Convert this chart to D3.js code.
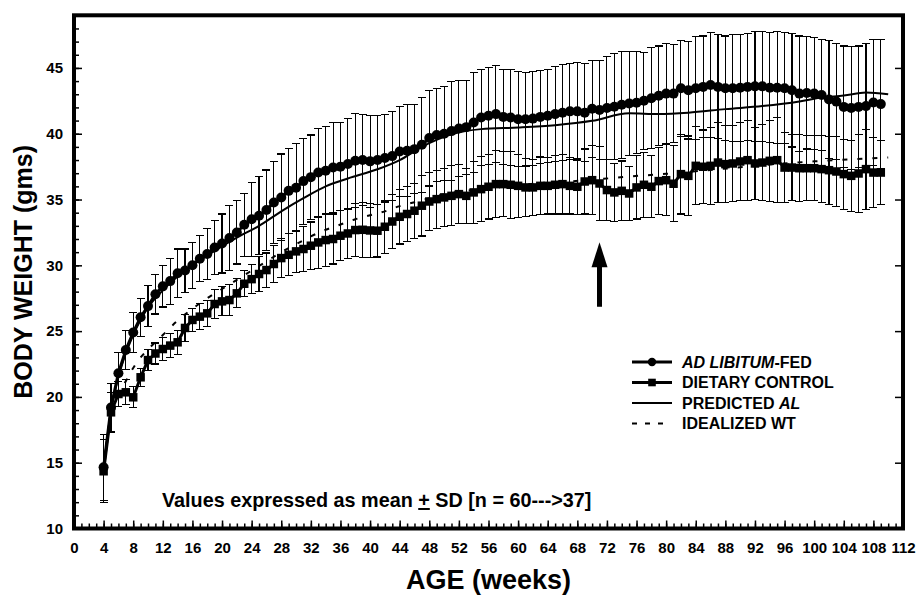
<!DOCTYPE html>
<html>
<head>
<meta charset="utf-8">
<script src="https://cdn.jsdelivr.net/npm/d3@7"></script>
<style>
  html, body { margin: 0; padding: 0; background: #fff; }
  svg { display: block; }
  text { font-family: "Liberation Sans", Arial, Helvetica, sans-serif; font-weight: bold; fill: #000; }
</style>
</head>
<body>
<svg id="chart" width="918" height="596"></svg>
<script>
// ---------- DATA ----------
const weeks = d3.range(4, 110); // 4 .. 109

const alMean = [14.65,19.2,21.8,23.57,24.9,26.05,26.9,27.8,28.4,28.8,29.4,29.6,30.0,30.5,30.86,31.36,31.66,32.07,32.5,33.08,
  33.5,33.77,34.2,34.78,35.16,35.66,35.9,36.4,36.7,37.05,37.18,37.43,37.5,37.7,37.95,38.0,37.9,38.0,38.15,38.3,
  38.65,38.7,38.83,39.16,39.67,39.9,40.0,40.2,40.4,40.5,40.85,41.23,41.36,41.49,41.28,41.23,41.1,41.1,41.15,41.28,
  41.36,41.49,41.6,41.7,41.7,41.6,41.9,41.8,41.95,42.05,42.2,42.3,42.35,42.5,42.7,42.88,43.05,43.05,43.46,43.3,
  43.46,43.56,43.7,43.56,43.46,43.46,43.5,43.56,43.6,43.6,43.5,43.5,43.46,43.3,43.05,43.1,43.05,42.95,42.6,42.44,
  42.04,41.95,42.04,42.1,42.37,42.25];

const alSD = [2.5,1.85,1.6,1.5,1.5,1.45,1.55,1.5,1.57,1.75,1.84,1.64,1.74,1.75,1.97,2.08,2.24,2.46,2.4,2.38,
  2.8,2.96,3.04,3.1,3.3,3.25,3.36,3.27,3.2,3.38,3.35,3.42,3.35,3.48,3.57,3.43,3.5,3.36,3.34,3.39,
  3.39,3.5,3.37,3.6,3.64,3.56,3.56,3.77,3.67,3.57,3.8,3.67,3.67,3.67,3.62,3.67,3.62,3.55,3.57,3.54,
  3.54,3.59,3.63,3.63,3.7,3.73,3.69,3.79,3.89,4.04,4.05,3.98,3.87,3.67,3.85,3.79,3.8,3.75,3.64,3.7,
  3.9,3.87,3.99,3.95,3.97,4.05,4.06,4.05,4.16,4.16,4.19,4.26,4.23,4.31,4.38,4.26,4.26,4.23,4.5,4.41,
  4.63,4.65,4.63,4.75,4.81,4.93];

const dcMean = [14.35,18.83,20.22,20.35,19.97,21.49,22.8,23.3,23.64,23.9,24.15,25.24,25.85,26.1,26.35,27.06,27.26,27.36,27.87,28.6,
  28.95,29.34,29.64,30.1,30.55,30.8,31.06,31.24,31.49,31.74,31.92,32.0,32.25,32.42,32.68,32.7,32.65,32.63,32.93,33.33,
  33.69,33.9,34.15,34.53,34.85,35.03,35.16,35.28,35.41,35.28,35.54,35.79,35.97,36.17,36.17,36.12,36.04,35.92,35.92,36.04,
  36.04,36.12,36.17,36.04,35.97,36.37,36.47,36.22,35.72,35.54,35.66,35.46,35.92,36.12,35.97,36.4,36.47,36.2,36.93,36.8,
  37.56,37.49,37.56,37.81,37.69,37.74,37.89,37.99,37.74,37.81,37.94,37.99,37.43,37.43,37.38,37.38,37.38,37.31,37.23,37.13,
  36.93,36.8,36.98,37.31,37.05,37.05];

const dcSD = [2.4,1.5,0.95,0.95,0.8,0.7,0.8,0.8,0.9,0.9,0.9,1.0,0.9,1.0,1.0,1.1,1.1,1.2,1.1,1.0,
  1.1,1.3,1.3,1.4,1.5,1.6,1.6,1.7,1.8,2.0,2.0,1.9,1.9,1.9,2.0,2.1,2.05,2.0,2.03,2.02,
  2.07,2.08,2.08,2.3,2.22,2.2,2.23,2.28,2.23,2.1,2.36,2.46,2.45,2.53,2.48,2.53,2.4,2.23,2.15,2.19,
  2.14,2.22,2.27,2.14,2.12,2.47,2.62,2.83,2.33,2.21,2.27,2.05,2.4,2.48,2.35,2.53,2.7,2.89,3.03,3.03,
  2.96,2.79,2.91,3.03,2.91,2.89,2.99,3.03,2.71,2.91,3.09,3.21,2.65,2.53,2.53,2.48,2.48,2.53,2.58,2.68,
  2.66,2.71,2.96,3.04,2.65,2.45];

const predWeeks = [4,5,6,7,8,10,12,15,19,22,25,28,31,34,37,41,44,47,51,55,60,65,70,75,79,83,88,93,98,101,104,107,110];
const predVals  = [14.6,18.9,21.5,23.3,24.7,26.8,28.1,29.6,31.1,32.1,33.0,34.1,35.1,36.0,36.6,37.3,38.0,39.0,39.95,40.35,40.47,40.65,40.98,41.55,41.5,41.6,41.87,42.1,42.45,42.75,42.9,43.13,43.0];

const idealWeeks = [4,5,6,7,8,9,10,12,14,16,18,20,22,24,26,28,30,32,34,36,38,40,42,44,46,48,50,55,60,65,70,75,80,85,90,95,100,105,110];
const idealVals  = [14.5,18.6,20.3,21.2,22.2,23.0,23.6,24.7,25.8,26.7,27.5,28.2,28.9,29.6,30.3,31.0,31.6,32.2,32.7,33.1,33.5,33.8,34.1,34.5,34.8,35.1,35.4,35.8,36.1,36.3,36.5,36.75,36.95,37.2,37.45,37.7,37.9,38.05,38.2];

const xTickLabels = d3.range(0, 113, 4);
const yTickLabels = d3.range(10, 50, 5);

const legendLabels = [
  [{t: "AD LIBITUM", i: true}, {t: "-FED", i: false}],
  [{t: "DIETARY CONTROL", i: false}],
  [{t: "PREDICTED ", i: false}, {t: "AL", i: true}],
  [{t: "IDEALIZED WT", i: false}]
];

const arrowWeek = 71, arrowFrom = 26.85, arrowTo = 31.75;

// ---------- SCALES ----------
const svg = d3.select("#chart");
const x = d3.scaleLinear().domain([0, 112]).range([74, 903]);
const y = d3.scaleLinear().domain([10, 49]).range([528.5, 15.3]);

// ---------- AXES ----------
function styleAxis(g) {
  g.select(".domain").remove();
  g.selectAll(".tick line").attr("stroke", "#000").attr("stroke-width", 1.5);
  g.selectAll(".tick text").style("font-size", "15px").style("font-weight", "bold")
    .style("font-family", '"Liberation Sans", Arial, sans-serif');
}

svg.append("g").attr("transform", `translate(0,${y(10)})`)
  .call(d3.axisBottom(x).tickValues(d3.range(0, 113, 1)).tickSize(-5).tickFormat(""))
  .call(styleAxis);
svg.append("g").attr("transform", `translate(0,${y(10)})`)
  .call(d3.axisBottom(x).tickValues(xTickLabels).tickSize(-8).tickPadding(14).tickFormat(d3.format("d")))
  .call(styleAxis);
svg.append("g").attr("transform", `translate(${x(0)},0)`)
  .call(d3.axisLeft(y).tickValues(d3.range(10, 49, 1)).tickSize(-5).tickFormat(""))
  .call(styleAxis);
svg.append("g").attr("transform", `translate(${x(0)},0)`)
  .call(d3.axisLeft(y).tickValues(yTickLabels).tickSize(-8).tickPadding(11).tickFormat(d3.format("d")))
  .call(styleAxis);
svg.append("g").attr("transform", `translate(${x(112)},0)`)
  .call(d3.axisRight(y).tickValues(yTickLabels.filter(v => v > 10)).tickSize(-8).tickFormat(""))
  .call(styleAxis);

svg.append("rect")
  .attr("x", x(0)).attr("y", y(49))
  .attr("width", x(112) - x(0)).attr("height", y(10) - y(49))
  .attr("fill", "none").attr("stroke", "#000").attr("stroke-width", 4);

// ---------- ERROR BARS ----------
const capW = 4;
function errorBars(means, sds, cls) {
  const g = svg.append("g").attr("class", cls).attr("stroke", "#000").attr("stroke-width", 1.1)
    .attr("shape-rendering", "crispEdges");
  weeks.forEach((w, i) => {
    const lo = y(means[i] - sds[i]), hi = y(means[i] + sds[i]), cx = x(w);
    g.append("line").attr("x1", cx).attr("x2", cx).attr("y1", lo).attr("y2", hi);
    g.append("line").attr("x1", cx - capW).attr("x2", cx + capW).attr("y1", lo).attr("y2", lo);
    g.append("line").attr("x1", cx - capW).attr("x2", cx + capW).attr("y1", hi).attr("y2", hi);
  });
}
errorBars(alMean, alSD, "al-err");
errorBars(dcMean, dcSD, "dc-err");

// ---------- LINES ----------
const lineW = d3.line().x((d, i) => x(weeks[i])).y(d => y(d));
const smooth = d3.line().x(d => x(d[0])).y(d => y(d[1])).curve(d3.curveMonotoneX);

svg.append("path").attr("d", smooth(d3.zip(idealWeeks, idealVals)))
  .attr("fill", "none").attr("stroke", "#000").attr("stroke-width", 2).attr("stroke-dasharray", "5,10");

svg.append("path").attr("d", smooth(d3.zip(predWeeks, predVals)))
  .attr("fill", "none").attr("stroke", "#000").attr("stroke-width", 2);

svg.append("path").attr("d", lineW(alMean))
  .attr("fill", "none").attr("stroke", "#000").attr("stroke-width", 3);
svg.append("path").attr("d", lineW(dcMean))
  .attr("fill", "none").attr("stroke", "#000").attr("stroke-width", 3);

svg.append("g").selectAll("circle").data(alMean).join("circle")
  .attr("cx", (d, i) => x(weeks[i])).attr("cy", d => y(d)).attr("r", 5).attr("fill", "#000");

const sq = 8.5;
svg.append("g").selectAll("rect").data(dcMean).join("rect")
  .attr("x", (d, i) => x(weeks[i]) - sq / 2).attr("y", d => y(d) - sq / 2)
  .attr("width", sq).attr("height", sq).attr("fill", "#000");

// ---------- ARROW ----------
const ax = x(arrowWeek), aTop = y(arrowTo), aBot = y(arrowFrom);
svg.append("line").attr("x1", ax).attr("x2", ax).attr("y1", aBot).attr("y2", aTop + 18)
  .attr("stroke", "#000").attr("stroke-width", 5);
svg.append("path")
  .attr("d", `M${ax},${aTop} L${ax + 8},${aTop + 25} L${ax - 8},${aTop + 25} Z`)
  .attr("fill", "#000");

// ---------- LEGEND ----------
const legY = [362, 382.5, 403, 423.5];
const lx1 = 632, lx2 = 672, ltx = 682;
const leg = svg.append("g");
leg.append("line").attr("x1", lx1).attr("x2", lx2).attr("y1", legY[0]).attr("y2", legY[0]).attr("stroke", "#000").attr("stroke-width", 3);
leg.append("circle").attr("cx", (lx1 + lx2) / 2).attr("cy", legY[0]).attr("r", 4.2).attr("fill", "#000");
leg.append("line").attr("x1", lx1).attr("x2", lx2).attr("y1", legY[1]).attr("y2", legY[1]).attr("stroke", "#000").attr("stroke-width", 3);
leg.append("rect").attr("x", (lx1 + lx2) / 2 - 3.8).attr("y", legY[1] - 3.8).attr("width", 7.6).attr("height", 7.6).attr("fill", "#000");
leg.append("line").attr("x1", lx1).attr("x2", lx2).attr("y1", legY[2]).attr("y2", legY[2]).attr("stroke", "#000").attr("stroke-width", 2);
leg.append("line").attr("x1", lx1).attr("x2", lx2 - 8).attr("y1", legY[3]).attr("y2", legY[3]).attr("stroke", "#000").attr("stroke-width", 2).attr("stroke-dasharray", "5,8");

legendLabels.forEach((parts, r) => {
  const t = leg.append("text").attr("x", ltx).attr("y", legY[r] + 5.5).style("font-size", "16px");
  parts.forEach(p => t.append("tspan").text(p.t).style("font-style", p.i ? "italic" : "normal"));
});

// ---------- ANNOTATION ----------
const ann = svg.append("text").attr("x", 162).attr("y", 507).style("font-size", "19.8px");
ann.append("tspan").text("Values expressed as mean ");
ann.append("tspan").text("+").style("text-decoration", "underline");
ann.append("tspan").text(" SD [n = 60--->37]");

// ---------- AXIS TITLES ----------
svg.append("text").attr("x", (x(0) + x(112)) / 2).attr("y", 589)
  .attr("text-anchor", "middle").style("font-size", "27px").text("AGE (weeks)");
svg.append("text").attr("transform", `translate(32,${(y(10) + y(49)) / 2}) rotate(-90)`)
  .attr("text-anchor", "middle").style("font-size", "25px").text("BODY WEIGHT (gms)");
</script>
</body>
</html>
